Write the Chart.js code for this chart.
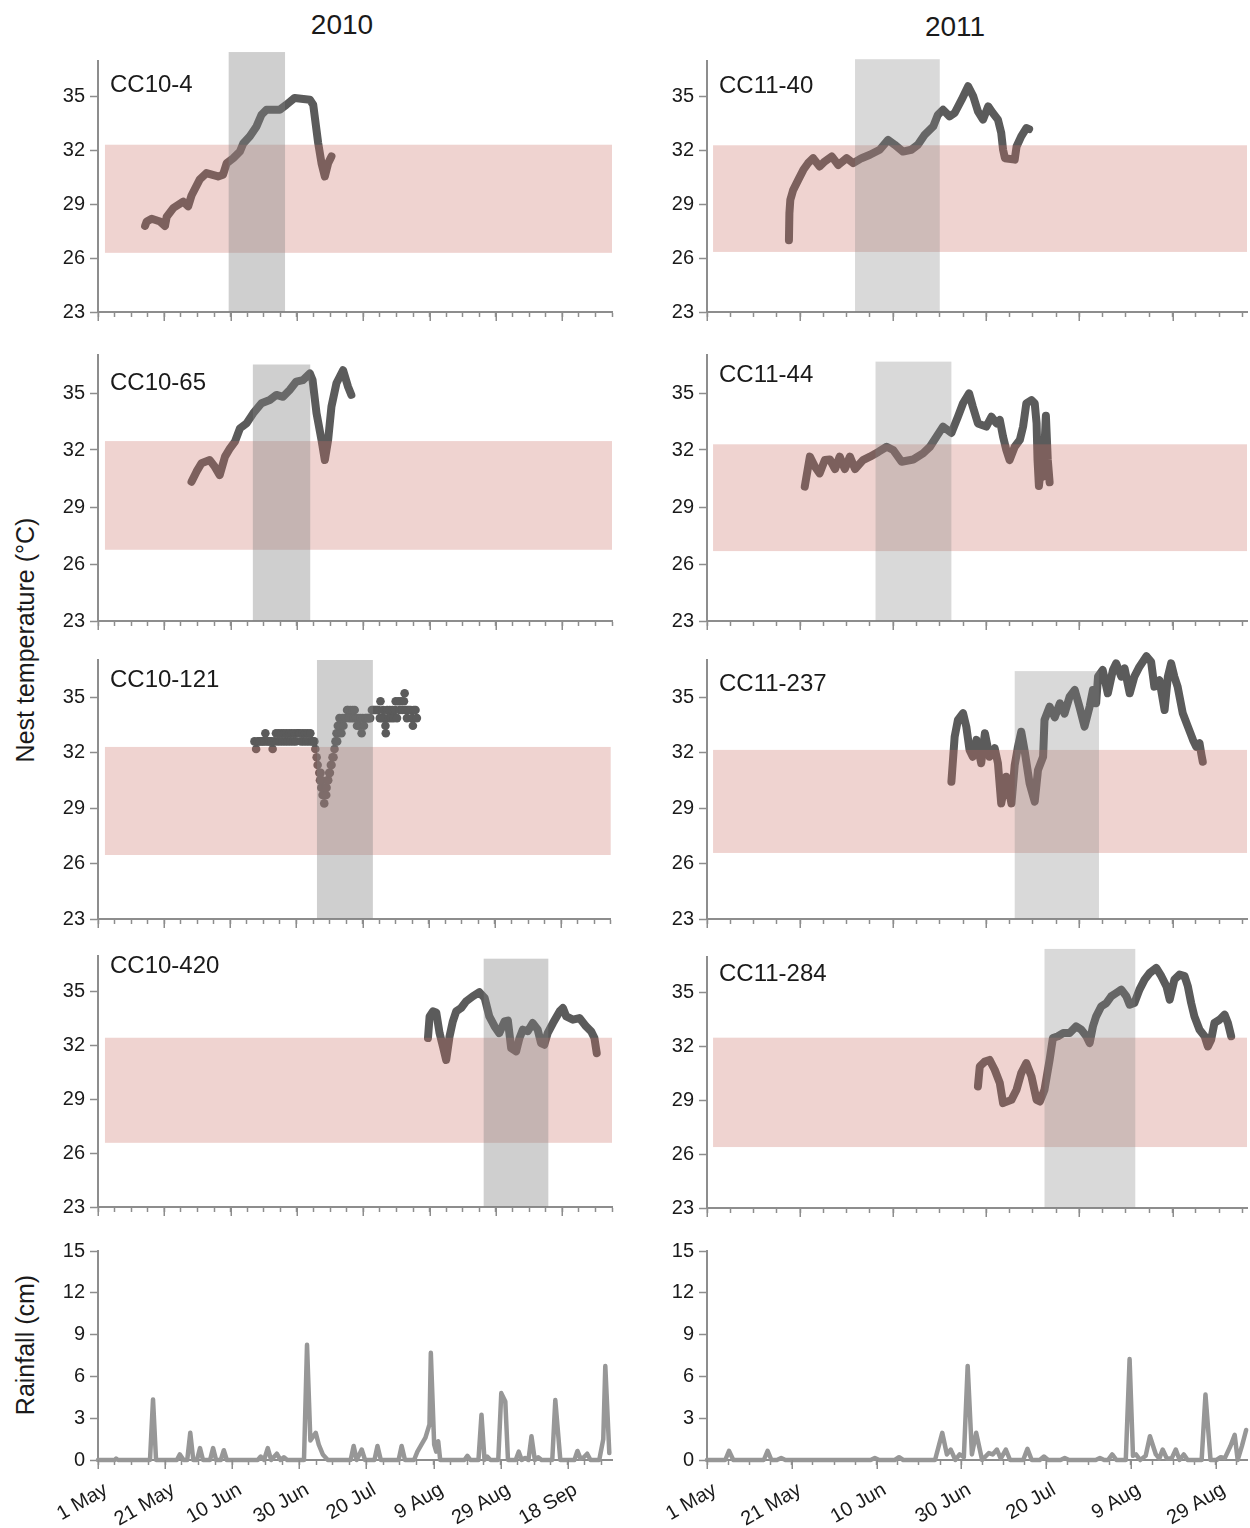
<!DOCTYPE html>
<html>
<head>
<meta charset="utf-8">
<title>Nest temperature and rainfall, 2010–2011</title>
<script src="https://cdn.jsdelivr.net/npm/chart.js@4.4.1/dist/chart.umd.min.js"></script>
<style>
  html, body { margin: 0; padding: 0; background: #fff; }
  body { position: relative; width: 1250px; height: 1528px; overflow: hidden;
         font-family: "Liberation Sans", Arial, Helvetica, sans-serif; color: #1a1a1a; }
  canvas { position: absolute; }
  .txt { position: absolute; white-space: nowrap; line-height: 1; }
  .center { transform: translate(-50%, -50%); }
  .label { transform: translateY(-50%); font-size: 24px; }
  .vert { transform: translate(-50%, -50%) rotate(-90deg); font-size: 25px; }
</style>
</head>
<body>

<div class="txt center" style="left:342px;top:25px;font-size:28px;">2010</div>
<div class="txt center" style="left:955px;top:27px;font-size:28px;">2011</div>
<div class="txt vert" style="left:25px;top:640px;">Nest temperature (°C)</div>
<div class="txt vert" style="left:25px;top:1345px;">Rainfall (cm)</div>

<script>
// Days are counted from 1 May of each season (day 0 = 1 May).
const tickDays  = [0, 20, 40, 60, 80, 100, 120, 140];
const tickNames = ['1 May', '21 May', '10 Jun', '30 Jun', '20 Jul', '9 Aug', '29 Aug', '18 Sep'];
const tempTicks = [23, 26, 29, 32, 35];
const rainTicks = [0, 3, 6, 9, 12, 15];

const nests2010 = ['CC10-4', 'CC10-65', 'CC10-121', 'CC10-420'];
const nests2011 = ['CC11-40', 'CC11-44', 'CC11-237', 'CC11-284'];

// Grey shaded period per nest (start day, end day, upper temperature edge)
const grey2010From = [39.4, 46.7, 66.2, 116.3];
const grey2010To   = [56.4, 64.0, 83.1, 135.8];
const grey2010Top  = [37.5, 36.5, 37.0, 36.85];
const grey2011From = [31.8, 36.2, 66.1, 72.5];
const grey2011To   = [50.0, 52.5, 84.2, 92.0];
const grey2011Top  = [37.1, 36.65, 36.4, 37.45];

// Pink temperature band per nest (°C)
const pink2010Low  = [26.3, 26.75, 26.46, 26.58];
const pink2010High = [32.33, 32.47, 32.3, 32.44];
const pink2011Low  = [26.35, 26.68, 26.57, 26.4];
const pink2011High = [32.3, 32.3, 32.14, 32.5];
const pinkFromDay2010 = 2.1;
const pinkFromDay2011 = 1.3;

// ---- nest temperature series (°C) ----
const cc10_4Day  = [14.2, 14.7, 16.2, 18.7, 20.2, 20.7, 22.7, 25.7, 27.2, 28.2, 30.7, 32.7, 36.2, 37.7, 38.8, 40.8, 42.8, 43.8, 45.8, 47.8, 49.3, 50.8, 54.8, 56.8, 59.3, 63.9, 64.9, 66.4, 67.4, 68.4, 69.4, 70.4];
const cc10_4Temp = [27.8, 28.05, 28.2, 28.05, 27.8, 28.3, 28.8, 29.16, 28.9, 29.5, 30.4, 30.75, 30.56, 30.66, 31.3, 31.58, 31.95, 32.4, 32.8, 33.35, 34.0, 34.28, 34.28, 34.56, 34.94, 34.84, 34.56, 32.42, 31.3, 30.56, 31.3, 31.68];

const cc10_65Day  = [28.2, 29.7, 31.2, 33.7, 35.2, 36.7, 38.3, 39.8, 41.3, 42.8, 44.8, 46.8, 49.3, 51.8, 53.8, 55.8, 57.8, 59.8, 61.8, 63.9, 64.7, 65.9, 67.4, 68.4, 69.4, 70.4, 71.9, 73.9, 75.4, 76.4];
const cc10_65Temp = [30.33, 30.86, 31.3, 31.47, 31.12, 30.68, 31.65, 32.09, 32.44, 33.14, 33.4, 33.93, 34.46, 34.63, 34.9, 34.8, 35.16, 35.6, 35.68, 36.03, 35.68, 33.93, 32.53, 31.47, 32.53, 34.28, 35.51, 36.2, 35.33, 34.9];

// CC10-121 logger reads in coarse steps, drawn as separate readings
const cc10_121Day  = [47.3, 47.8, 48.3, 48.8, 49.3, 49.8, 50.3, 50.6, 51.0, 51.5, 52.0, 52.4, 52.8, 53.3, 53.8, 54.2, 54.6, 55.0, 55.4, 55.8, 56.2, 56.6, 57.0, 57.4, 57.8, 58.2, 58.6, 59.0, 59.4, 59.8, 60.2, 60.6, 61.0, 61.4, 61.8, 62.2, 62.6, 63.0, 63.4, 63.8, 64.2, 64.6, 65.0, 65.4,
                      65.7, 66.1, 66.4, 66.9, 67.1, 67.3, 67.5, 67.7, 67.9, 68.1, 68.2, 68.4, 68.6, 68.8, 69.0, 69.1, 69.4, 69.6, 69.9, 70.1, 70.4, 70.6, 70.9, 71.2, 71.5, 71.8, 72.1, 72.3, 72.5, 72.8, 73.0, 73.3, 73.6, 73.9, 74.2, 74.5, 74.9, 75.3, 75.6, 75.9, 76.3, 76.6, 77.0, 77.3, 77.6, 78.0, 78.3, 78.6, 79.0, 79.3, 79.7, 80.0, 80.4, 80.8, 81.2, 81.6, 81.9,
                      82.3, 82.8, 83.2, 83.6, 84.0, 84.4, 84.8, 85.2, 85.4, 85.8, 86.2, 86.4, 86.9, 87.0, 87.4, 87.8, 88.2, 88.6, 89.0, 89.4, 89.8, 90.0, 90.4, 90.8, 91.2, 91.6, 92.0, 92.5, 92.7, 93.0, 93.4, 93.5, 94.0, 94.5, 95.0, 95.2, 95.5, 96.0, 96.4];
const cc10_121Temp = [32.6, 32.19, 32.6, 32.6, 32.6, 32.6, 32.6, 33.04, 32.6, 32.6, 32.6, 32.6, 32.19, 32.6, 33.04, 32.6, 33.04, 32.6, 33.04, 32.6, 33.04, 32.6, 33.04, 32.6, 33.04, 32.6, 33.04, 32.6, 33.04, 32.6, 33.04, 33.04, 33.04, 32.6, 33.04, 32.6, 33.04, 32.6, 33.04, 32.6, 33.04, 32.6, 32.6, 32.6,
                      32.19, 31.74, 31.32, 30.9, 30.5, 30.9, 30.1, 30.5, 29.7, 30.1, 29.7, 29.25, 29.7, 30.1, 29.7, 30.1, 30.5, 30.5, 30.9, 30.9, 31.32, 31.32, 31.74, 31.74, 32.19, 32.6, 33.04, 32.6, 33.45, 33.04, 33.86, 33.45, 33.04, 33.86, 33.45, 33.86, 33.86, 34.3, 34.3, 33.86, 34.3, 33.86, 34.3, 33.86, 34.3, 33.86, 33.45, 33.86, 33.45, 33.86, 33.04, 33.86, 33.45, 33.86, 33.86, 33.86, 33.86,
                      33.86, 34.3, 34.3, 34.3, 34.3, 34.3, 34.3, 33.86, 34.77, 33.86, 34.3, 33.86, 33.45, 33.04, 34.3, 33.86, 34.3, 33.86, 34.3, 33.86, 34.3, 34.77, 33.86, 34.77, 34.3, 34.77, 34.3, 34.77, 35.2, 34.3, 33.86, 34.3, 34.3, 34.3, 33.86, 33.45, 34.3, 34.3, 33.86];

const cc10_420Day  = [99.5, 100, 101, 102, 103, 104, 105, 106, 107, 108, 109.5, 111, 113, 115, 116.6, 118, 119.6, 121, 122.6, 123.6, 124.6, 126.1, 127.1, 128.1, 129.6, 131.1, 132.6, 133.6, 134.6, 135.6, 137.2, 139.2, 140.2, 141.2, 143.2, 145.2, 147.2, 148.7, 149.7, 150.4];
const cc10_420Temp = [32.42, 33.63, 33.91, 33.85, 32.7, 31.96, 31.2, 32.5, 33.35, 33.91, 34.1, 34.47, 34.75, 34.98, 34.66, 33.63, 33.07, 32.7, 33.35, 33.4, 31.86, 31.68, 32.42, 32.89, 32.8, 33.26, 32.89, 32.14, 32.05, 32.7, 33.26, 33.91, 34.1, 33.63, 33.45, 33.54, 33.07, 32.8, 32.42, 31.58];

const cc11_40Day  = [17.6, 17.7, 17.9, 18.5, 19.6, 20.7, 21.7, 22.8, 24.2, 25.3, 26.8, 28.2, 30.0, 31.4, 33.2, 35.0, 37.1, 38.9, 40.3, 42.1, 43.9, 45.3, 46.8, 48.6, 49.6, 50.7, 52.1, 53.2, 54.7, 56.1, 57.2, 58.2, 59.3, 60.4, 61.4, 62.5, 63.2, 63.6, 64.0, 66.1, 66.5, 67.5, 68.6, 69.2];
const cc11_40Temp = [27.0, 28.5, 29.26, 29.8, 30.37, 30.93, 31.3, 31.58, 31.12, 31.4, 31.68, 31.2, 31.58, 31.3, 31.58, 31.77, 32.05, 32.6, 32.33, 31.95, 32.05, 32.33, 32.9, 33.35, 34.0, 34.28, 33.91, 34.1, 34.84, 35.59, 35.03, 34.19, 33.73, 34.47, 34.1, 33.73, 33.0, 32.05, 31.58, 31.5, 32.23, 32.8, 33.26, 33.2];

const cc11_44Day  = [21.0, 22.1, 23.2, 24.2, 25.3, 26.4, 27.5, 28.5, 29.6, 30.7, 31.8, 33.5, 35.0, 36.8, 38.6, 40.0, 41.8, 44.3, 46.4, 47.9, 49.3, 50.7, 52.5, 53.9, 55.0, 56.3, 57.1, 58.2, 60.0, 61.1, 62.2, 62.9, 63.6, 64.3, 65.0, 66.1, 67.2, 67.9, 68.6, 69.7, 70.4, 70.8, 71.0, 71.3, 71.7, 72.2, 72.8, 73.2, 73.6];
const cc11_44Temp = [30.07, 31.65, 31.12, 30.77, 31.47, 31.5, 31.0, 31.65, 31.0, 31.65, 31.0, 31.47, 31.65, 31.9, 32.17, 32.0, 31.38, 31.5, 31.82, 32.17, 32.7, 33.23, 32.9, 33.75, 34.46, 34.98, 34.28, 33.4, 33.23, 33.75, 33.4, 33.58, 32.7, 32.0, 31.47, 32.17, 32.53, 33.23, 34.46, 34.63, 34.46, 33.4, 31.5, 30.1, 31.0, 30.6, 33.8, 31.5, 30.3];

const cc11_237Day  = [52.5, 53.2, 53.9, 55.0, 55.7, 56.4, 57.1, 57.9, 58.9, 59.7, 60.7, 61.8, 62.5, 63.2, 64.3, 65.4, 66.1, 66.8, 67.5, 68.2, 69.3, 70.4, 71.1, 72.2, 72.5, 73.6, 74.7, 75.8, 76.8, 77.9, 79.0, 80.0, 81.1, 82.2, 82.9, 83.6, 84.0, 85.0, 86.1, 87.2, 87.9, 89.0, 89.7, 90.8, 91.8, 92.9, 94.4, 95.4, 96.1, 97.2, 98.3, 99.0, 99.7, 100.4, 101.1, 102.2, 103.3, 104.4, 105.1, 105.8, 106.2, 106.5];
const cc11_237Temp = [30.42, 32.85, 33.76, 34.12, 33.4, 32.14, 31.77, 32.68, 31.42, 33.04, 31.77, 32.23, 31.42, 29.25, 30.69, 29.25, 31.32, 32.31, 33.12, 32.14, 30.33, 29.34, 31.05, 31.77, 33.76, 34.48, 33.9, 34.66, 34.1, 35.02, 35.38, 34.48, 33.4, 34.48, 35.38, 34.66, 36.1, 36.46, 35.2, 36.46, 36.82, 36.1, 36.55, 35.2, 36.1, 36.64, 37.2, 36.9, 35.56, 35.9, 34.3, 36.1, 36.82, 36.1, 35.56, 34.12, 33.4, 32.68, 32.31, 32.5, 31.9, 31.5];

const cc11_284Day  = [58.2, 58.6, 59.7, 60.7, 61.8, 62.9, 63.6, 65.4, 66.5, 67.5, 68.6, 69.7, 70.8, 71.5, 72.5, 73.6, 74.3, 75.4, 76.5, 77.9, 79.3, 80.4, 81.5, 82.2, 82.9, 83.6, 84.7, 85.8, 86.8, 87.9, 89.0, 90.1, 90.8, 91.8, 92.9, 94.0, 95.1, 96.5, 97.6, 98.7, 99.4, 100.4, 101.5, 102.6, 103.3, 104.0, 104.7, 105.8, 106.9, 107.6, 108.3, 109.0, 110.1, 111.2, 111.9, 112.6];
const cc11_284Temp = [29.78, 30.9, 31.17, 31.26, 30.71, 29.97, 28.85, 29.03, 29.6, 30.52, 31.08, 30.34, 29.03, 28.94, 29.6, 31.27, 32.48, 32.58, 32.76, 32.76, 33.13, 32.95, 32.58, 32.2, 33.13, 33.69, 34.25, 34.43, 34.8, 34.99, 35.18, 34.8, 34.34, 34.43, 35.18, 35.74, 36.11, 36.39, 35.93, 35.36, 34.62, 35.74, 36.02, 35.93, 35.36, 34.44, 33.69, 32.94, 32.58, 32.01, 32.39, 33.32, 33.5, 33.78, 33.32, 32.58];

// ---- rainfall (cm) ----
const rain2010Day = [0, 5, 5.4, 6, 15.5, 16.4, 17.3, 23.5, 24.4, 25.5, 26.6, 27.5, 28.4, 29.5, 30.4, 31.3, 33.4, 34.3, 35.2, 36.6, 37.5, 38.4, 47.6, 48.5, 49.5, 50.6, 51.6, 53.3, 54.4, 55.4, 56.4, 61.4, 62.3, 63.3, 64.9, 65.8, 67.0, 68.5, 75.3, 76.2, 77.1, 78.6, 79.6, 82.4, 83.3, 84.3, 89.6, 90.5, 91.5, 94.2, 95.2, 96.4, 97.6, 98.8, 99.2, 100.2, 100.8, 101.4, 102.0, 109.2, 110.1, 111.0, 113.4, 114.3, 115.2, 116.0, 117.0, 119.3, 120.2, 121.4, 122.2, 124.5, 125.4, 126.3, 127.3, 128.3, 129.2, 130.2, 131.2, 132.2, 135.4, 136.3, 137.0, 137.8, 142.0, 142.9, 143.8, 144.8, 145.8, 146.8, 149.4, 150.6, 151.2, 152.4];
const rain2010    = [0, 0, 0.1, 0, 0, 4.35, 0, 0, 0.4, 0, 0, 1.95, 0, 0, 0.85, 0, 0, 0.85, 0, 0, 0.7, 0, 0, 0.25, 0, 0.85, 0, 0.45, 0, 0.2, 0, 0, 8.27, 1.4, 1.95, 1.1, 0.4, 0, 0, 1.0, 0, 0.75, 0, 0, 1.0, 0, 0, 1.0, 0, 0, 0.6, 1.1, 1.6, 2.55, 7.7, 1.1, 0.6, 1.35, 0, 0, 0.3, 0, 0, 3.25, 0, 0.25, 0, 0, 4.8, 4.2, 0, 0, 0.6, 0, 0.15, 0, 1.7, 0, 0.2, 0, 0, 4.3, 2.3, 0, 0, 0.65, 0.1, 0.2, 0.45, 0, 0, 1.5, 6.75, 0.5];

const rain2011Day = [0, 4.3, 5.2, 6.2, 13.4, 14.3, 15.2, 16.5, 17.5, 18.5, 38.6, 39.6, 40.6, 44.3, 45.3, 46.3, 53.8, 55.5, 56.6, 57.5, 58.6, 59.6, 60.6, 61.5, 62.5, 63.5, 64.9, 66.5, 67.4, 68.4, 69.3, 70.5, 71.5, 74.6, 75.6, 76.6, 78.5, 79.5, 80.5, 83.4, 84.4, 85.4, 91.7, 92.7, 93.7, 94.6, 95.6, 96.6, 98.8, 99.7, 100.5, 101.2, 102.2, 103.5, 104.5, 105.9, 106.7, 107.5, 108.5, 109.6, 110.6, 111.5, 112.5, 113.4, 116.7, 117.6, 118.8, 120.2, 121.2, 122.2, 123.5, 124.5, 125.2, 126.2, 127.2];
const rain2011    = [0, 0, 0.65, 0, 0, 0.65, 0, 0, 0.15, 0, 0, 0.15, 0, 0, 0.2, 0, 0, 1.95, 0.4, 0.75, 0, 0.4, 0.2, 6.75, 0.4, 1.95, 0, 0.5, 0.4, 0.75, 0.1, 0.75, 0, 0, 0.8, 0, 0, 0.25, 0, 0, 0.15, 0, 0, 0.15, 0, 0, 0.4, 0, 0, 7.25, 0.3, 0.4, 0, 0.3, 1.7, 0.4, 0.1, 0.75, 0.1, 0.1, 0.75, 0, 0.4, 0, 0, 4.7, 0, 0, 0.2, 0.15, 1.0, 1.8, 0, 1.0, 2.15];

// ---- styling ----
const AXIS = '#8d8d8d';
const TEXT = '#1a1a1a';
const LINE = '#5b5b5b';
const RAIN = '#979797';
const PINK = 'rgba(202,108,98,0.30)';
const FONT = '"Liberation Sans", Arial, Helvetica, sans-serif';

const xy = (days, vals) => days.map((d, i) => ({ x: d, y: vals[i] }));

// shaded bands, painted over the series so the line takes their tint
const bandPlugin = {
  id: 'bands',
  afterDatasetsDraw(chart, args, o) {
    if (!o || o.pinkLow == null) return;
    const { ctx, chartArea } = chart;
    const x = chart.scales.x, y = chart.scales.y;
    ctx.save();
    ctx.fillStyle = PINK;
    const px0 = x.getPixelForValue(o.pinkFrom);
    const py0 = y.getPixelForValue(o.pinkHigh), py1 = y.getPixelForValue(o.pinkLow);
    ctx.fillRect(px0, py0, chartArea.right - px0, py1 - py0);
    ctx.fillStyle = o.greyColor;
    const gx0 = x.getPixelForValue(o.greyFrom), gx1 = x.getPixelForValue(o.greyTo);
    const gy0 = y.getPixelForValue(o.greyTop), gy1 = y.getPixelForValue(y.min);
    ctx.fillRect(gx0, gy0, gx1 - gx0, gy1 - gy0);
    ctx.restore();
  }
};

// longer tick marks at the labelled dates
const majorTickPlugin = {
  id: 'majorTicks',
  afterDraw(chart) {
    const x = chart.scales.x, ctx = chart.ctx;
    ctx.save();
    ctx.strokeStyle = AXIS;
    ctx.lineWidth = 1.5;
    tickDays.forEach(d => {
      if (d > x.max) return;
      const px = Math.round(x.getPixelForValue(d)) + 0.25;
      ctx.beginPath();
      ctx.moveTo(px, x.top);
      ctx.lineTo(px, x.top + 9);
      ctx.stroke();
    });
    ctx.restore();
  }
};

function makePanel(box, xMax, yMin, yMax, yTicks, datasets, bands, showDates) {
  const padTop = 26, padRight = 3, yw = 74, xh = showDates ? 66 : 14;
  const cv = document.createElement('canvas');
  const w = yw + (box.right - box.left) + padRight;
  const h = padTop + (box.bottom - box.top) + xh;
  cv.width = w; cv.height = h;
  cv.style.left = (box.left - yw) + 'px';
  cv.style.top = (box.top - padTop) + 'px';
  cv.style.width = w + 'px';
  cv.style.height = h + 'px';
  document.body.appendChild(cv);

  const xTickValues = [];
  for (let d = 0; d <= xMax + 1e-6; d += 5) xTickValues.push(d);

  new Chart(cv, {
    type: 'line',
    data: { datasets },
    plugins: [bandPlugin, majorTickPlugin],
    options: {
      responsive: false,
      animation: false,
      devicePixelRatio: 1,
      events: [],
      layout: { padding: { top: padTop, right: padRight, left: 0, bottom: 0 } },
      plugins: { legend: { display: false }, tooltip: { enabled: false }, bands: bands || {} },
      scales: {
        x: {
          type: 'linear', min: 0, max: xMax,
          afterBuildTicks: s => { s.ticks = xTickValues.map(v => ({ value: v })); },
          afterFit: s => { s.height = xh; s.paddingLeft = 0; s.paddingRight = 0; },
          border: { display: true, color: AXIS, width: 2 },
          grid: { drawOnChartArea: false, drawTicks: true, tickLength: 5, tickColor: AXIS, tickWidth: 1.5 },
          ticks: {
            display: showDates, autoSkip: false, minRotation: 30, maxRotation: 30,
            padding: 13, labelOffset: 8,
            color: TEXT, font: { family: FONT, size: 20 },
            callback: v => { const i = tickDays.indexOf(v); return i >= 0 ? tickNames[i] : ''; }
          }
        },
        y: {
          type: 'linear', min: yMin, max: yMax,
          afterBuildTicks: s => { s.ticks = yTicks.map(v => ({ value: v })); },
          afterFit: s => { s.width = yw; s.paddingTop = 0; s.paddingBottom = 0; },
          border: { display: true, color: AXIS, width: 2 },
          grid: { drawOnChartArea: false, drawTicks: true, tickLength: 8, tickColor: AXIS, tickWidth: 1.5 },
          ticks: { color: TEXT, padding: 5, font: { family: FONT, size: 20 } }
        }
      }
    }
  });
}

function tempLine(days, temps) {
  return {
    data: xy(days, temps), borderColor: LINE, borderWidth: 8,
    borderJoinStyle: 'round', borderCapStyle: 'round', pointRadius: 0, tension: 0, clip: false
  };
}
function tempDots(days, temps) {
  return {
    data: xy(days, temps), showLine: false, pointRadius: 4.3, pointBorderWidth: 0,
    pointBackgroundColor: LINE, borderColor: LINE, clip: false
  };
}
function rainLine(days, vals) {
  return {
    data: xy(days, vals), borderColor: RAIN, borderWidth: 4.5,
    borderJoinStyle: 'round', borderCapStyle: 'round', pointRadius: 0, tension: 0, clip: false
  };
}

// ---- page layout (plot boxes in page pixels) ----
const col2010 = { left: 98, right: 612 };
const col2011 = { left: 707, right: 1247 };
const rows2010 = [[61, 312], [355, 621], [660, 919], [956, 1207]];
const rows2011 = [[61, 312], [355, 621], [660, 919], [957, 1208]];
const rainRow = [1251, 1460];
const labelY2010 = [84, 382, 679, 965];
const labelY2011 = [85, 374, 683, 973];

const series2010 = [
  tempLine(cc10_4Day, cc10_4Temp),
  tempLine(cc10_65Day, cc10_65Temp),
  tempDots(cc10_121Day, cc10_121Temp),
  tempLine(cc10_420Day, cc10_420Temp)
];
const series2011 = [
  tempLine(cc11_40Day, cc11_40Temp),
  tempLine(cc11_44Day, cc11_44Temp),
  tempLine(cc11_237Day, cc11_237Temp),
  tempLine(cc11_284Day, cc11_284Temp)
];

function addLabel(text, x, y) {
  const d = document.createElement('div');
  d.className = 'txt label';
  d.style.left = x + 'px';
  d.style.top = y + 'px';
  d.textContent = text;
  document.body.appendChild(d);
}

for (let i = 0; i < 4; i++) {
  makePanel({ left: col2010.left, right: col2010.right, top: rows2010[i][0], bottom: rows2010[i][1] },
    155, 23, 37, tempTicks, [series2010[i]],
    { pinkLow: pink2010Low[i], pinkHigh: pink2010High[i], pinkFrom: pinkFromDay2010,
      greyFrom: grey2010From[i], greyTo: grey2010To[i], greyTop: grey2010Top[i],
      greyColor: 'rgba(128,128,128,0.38)' }, false);
  makePanel({ left: col2011.left, right: col2011.right, top: rows2011[i][0], bottom: rows2011[i][1] },
    116, 23, 37, tempTicks, [series2011[i]],
    { pinkLow: pink2011Low[i], pinkHigh: pink2011High[i], pinkFrom: pinkFromDay2011,
      greyFrom: grey2011From[i], greyTo: grey2011To[i], greyTop: grey2011Top[i],
      greyColor: 'rgba(128,128,128,0.30)' }, false);
  addLabel(nests2010[i], 110, labelY2010[i]);
  addLabel(nests2011[i], 719, labelY2011[i]);
}

makePanel({ left: col2010.left, right: col2010.right, top: rainRow[0], bottom: rainRow[1] },
  153.2, 0, 15, rainTicks, [rainLine(rain2010Day, rain2010)], null, true);
makePanel({ left: col2011.left, right: col2011.right, top: rainRow[0], bottom: rainRow[1] },
  127.4, 0, 15, rainTicks, [rainLine(rain2011Day, rain2011)], null, true);
</script>
</body>
</html>
